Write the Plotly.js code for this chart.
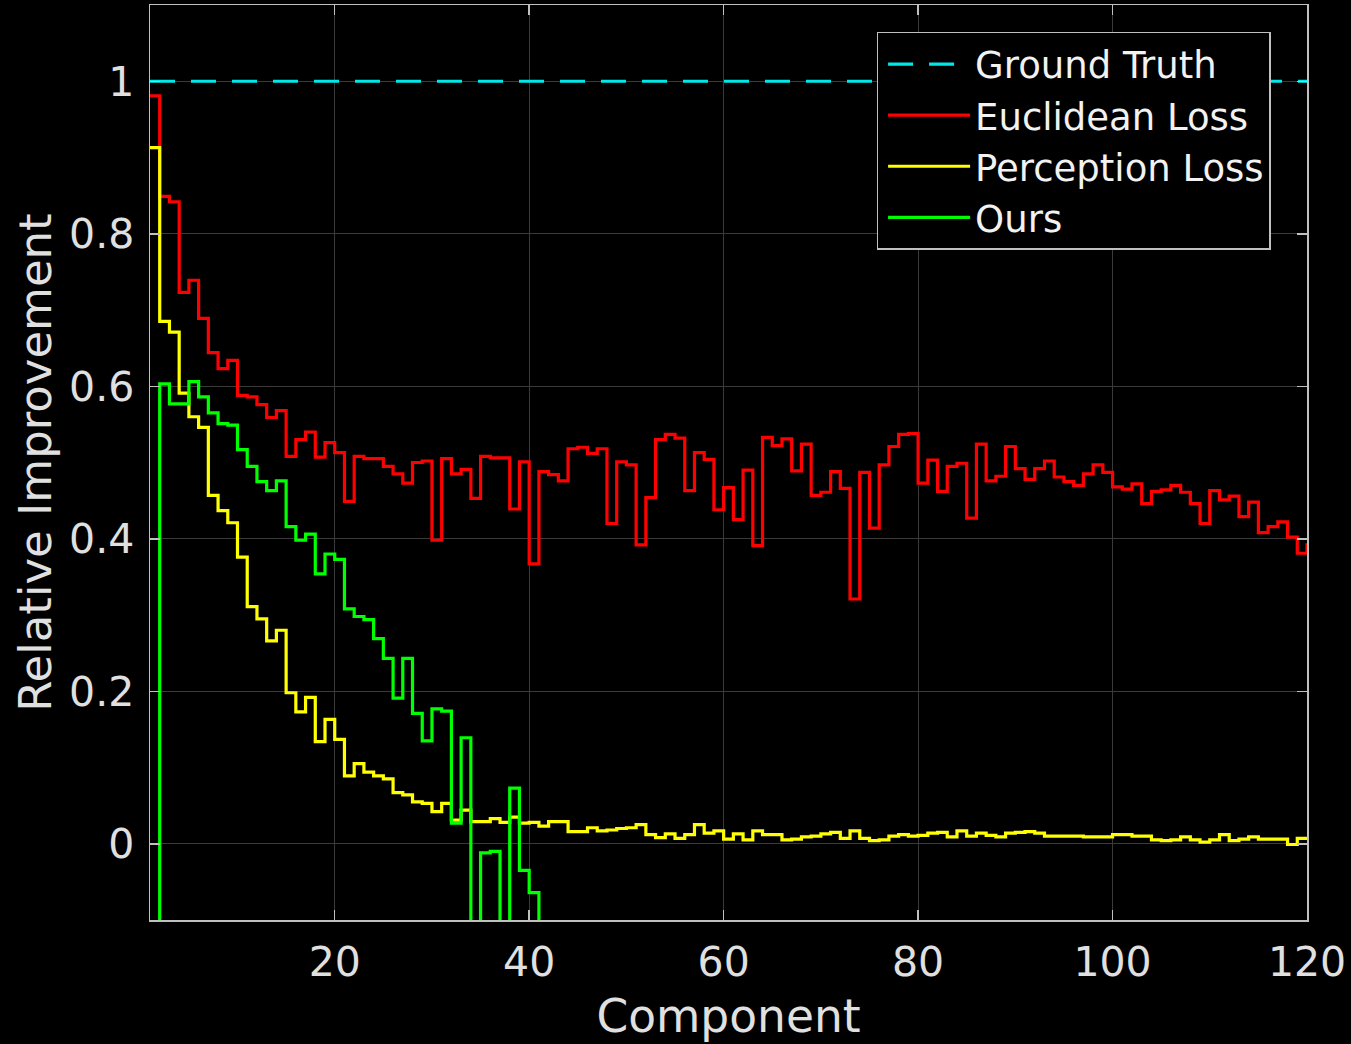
<!DOCTYPE html>
<html>
<head>
<meta charset="utf-8">
<script src="https://cdn.plot.ly/plotly-3.0.1.min.js"></script>
<style>html,body{margin:0;padding:0;background:#000;}</style>
</head>
<body>
<div id="chart" style="width:1351px;height:1044px;"></div>
<script>
// Component index (x positions of the stairs)
const component = Array.from({length: 120}, (_, i) => i + 1);

// Ground truth relative improvement (constant)
const groundTruthX = [1, 120];
const groundTruthY = [1, 1];

// Euclidean loss, components 1..120
const euclidean = [
  0.981, 0.849, 0.842, 0.723, 0.739, 0.689, 0.644, 0.623, 0.634, 0.588,
  0.586, 0.576, 0.559, 0.568, 0.508, 0.530, 0.540, 0.507, 0.526, 0.513,
  0.449, 0.508, 0.505, 0.505, 0.495, 0.485, 0.473, 0.500, 0.502, 0.398,
  0.505, 0.485, 0.491, 0.453, 0.508, 0.506, 0.506, 0.439, 0.501, 0.367,
  0.488, 0.484, 0.476, 0.518, 0.520, 0.512, 0.518, 0.420, 0.501, 0.497,
  0.392, 0.454, 0.530, 0.537, 0.532, 0.463, 0.513, 0.504, 0.438, 0.467,
  0.425, 0.490, 0.391, 0.533, 0.522, 0.531, 0.489, 0.524, 0.457, 0.461,
  0.488, 0.466, 0.321, 0.487, 0.414, 0.497, 0.521, 0.537, 0.538, 0.473,
  0.503, 0.462, 0.495, 0.499, 0.427, 0.524, 0.476, 0.482, 0.521, 0.492,
  0.478, 0.492, 0.502, 0.481, 0.475, 0.470, 0.485, 0.497, 0.487, 0.468,
  0.465, 0.472, 0.446, 0.462, 0.464, 0.470, 0.461, 0.446, 0.420, 0.463,
  0.451, 0.456, 0.429, 0.448, 0.408, 0.416, 0.422, 0.402, 0.381, 0.394
];

// Perception loss, components 1..120
const perception = [
  0.913, 0.685, 0.671, 0.591, 0.560, 0.546, 0.457, 0.437, 0.421, 0.376,
  0.311, 0.295, 0.266, 0.280, 0.198, 0.173, 0.192, 0.134, 0.163, 0.137,
  0.089, 0.105, 0.094, 0.089, 0.085, 0.067, 0.064, 0.055, 0.053, 0.042,
  0.053, 0.031, 0.044, 0.029, 0.029, 0.033, 0.028, 0.035, 0.027, 0.028,
  0.023, 0.029, 0.029, 0.016, 0.016, 0.021, 0.017, 0.018, 0.020, 0.021,
  0.025, 0.012, 0.008, 0.013, 0.007, 0.012, 0.025, 0.014, 0.017, 0.006,
  0.013, 0.005, 0.017, 0.012, 0.012, 0.005, 0.006, 0.009, 0.010, 0.013,
  0.015, 0.007, 0.017, 0.007, 0.004, 0.005, 0.010, 0.012, 0.010, 0.011,
  0.014, 0.015, 0.009, 0.017, 0.010, 0.014, 0.011, 0.009, 0.014, 0.015,
  0.016, 0.014, 0.010, 0.010, 0.010, 0.010, 0.009, 0.009, 0.009, 0.012,
  0.012, 0.010, 0.010, 0.005, 0.004, 0.005, 0.009, 0.005, 0.002, 0.005,
  0.012, 0.004, 0.006, 0.009, 0.006, 0.006, 0.006, -0.001, 0.007, 0.009
];

// Ours, components 1..41 (values below the axis are off-scale)
const ours = [
  -0.5, 0.603, 0.577, 0.577, 0.606, 0.586, 0.565, 0.551, 0.549, 0.517,
  0.495, 0.475, 0.463, 0.476, 0.416, 0.398, 0.406, 0.354, 0.380, 0.373,
  0.308, 0.298, 0.294, 0.269, 0.243, 0.191, 0.243, 0.171, 0.135, 0.177,
  0.174, 0.027, 0.139, -0.3, -0.012, -0.010, -0.3, 0.073, -0.035, -0.064,
  -0.3
];

const xTicks = [20, 40, 60, 80, 100, 120];
const yTicks = [0, 0.2, 0.4, 0.6, 0.8, 1];
const yTickText = ['0', '0.2', '0.4', '0.6', '0.8', '1'];

const FONT = 'DejaVu Sans, Lucida Grande, sans-serif';
const AX = '#c0c0c0';
const LW = 3.2;

const traces = [
  {x: groundTruthX, y: groundTruthY, name: 'Ground Truth', mode: 'lines',
   line: {color: '#00e8e8', width: LW, dash: '25px,16px'}},
  {x: component, y: euclidean, name: 'Euclidean Loss', mode: 'lines',
   line: {color: '#ff0000', width: LW, shape: 'hv'}},
  {x: component, y: perception, name: 'Perception Loss', mode: 'lines',
   line: {color: '#ffff00', width: LW, shape: 'hv'}},
  {x: component.slice(0, ours.length), y: ours, name: 'Ours', mode: 'lines',
   line: {color: '#00ff00', width: LW, shape: 'hv'}}
];

const layout = {
  width: 1351, height: 1044,
  paper_bgcolor: '#000', plot_bgcolor: '#000',
  margin: {l: 150, r: 44, t: 5, b: 124},
  font: {family: FONT, color: '#e0e0e0'},
  showlegend: true,
  xaxis: {
    range: [1, 120], tickvals: xTicks, ticks: 'inside', ticklen: 10, tickwidth: 1.5,
    tickcolor: AX, showline: true, linecolor: AX, linewidth: 1.5, mirror: 'ticks',
    showgrid: true, gridcolor: '#3a3a3a', gridwidth: 1, zeroline: false,
    tickfont: {family: FONT, size: 41, color: '#e0e0e0'}, ticklabelstandoff: 5,
    automargin: false,
    title: {text: 'Component', font: {family: FONT, size: 45.5, color: '#e0e0e0'}, standoff: 15}
  },
  yaxis: {
    range: [-0.1, 1.1], tickvals: yTicks, ticktext: yTickText, ticks: 'inside', ticklen: 10,
    tickwidth: 1.5, tickcolor: AX, showline: true, linecolor: AX, linewidth: 1.5, mirror: 'ticks',
    showgrid: true, gridcolor: '#3a3a3a', gridwidth: 1, zeroline: false,
    tickfont: {family: FONT, size: 41, color: '#e0e0e0'}, ticklabelstandoff: 6,
    automargin: false,
    title: {text: 'Relative Improvement', font: {family: FONT, size: 45, color: '#e0e0e0'}, standoff: 3}
  },
  legend: {
    x: 0.628, y: 0.9705, xanchor: 'left', yanchor: 'top',
    bgcolor: '#000', bordercolor: AX, borderwidth: 1.5,
    font: {family: FONT, size: 37, color: '#f2f2f2'},
    itemwidth: 82, indentation: 5, tracegroupgap: 0
  }
};

Plotly.newPlot('chart', traces, layout, {displayModeBar: false, staticPlot: true});
</script>
</body>
</html>
